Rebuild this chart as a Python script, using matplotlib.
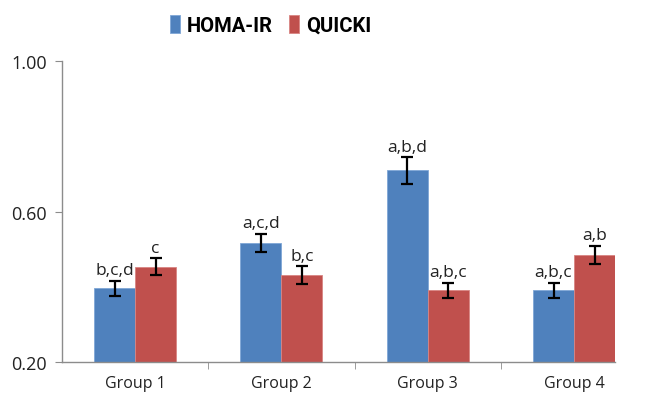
import matplotlib
import numpy as np
from matplotlib import pyplot as plt

matplotlib.use("Agg")
plt.rcParams['font.family'] = ['Open Sans', 'DejaVu Sans']

groups = ["Group 1", "Group 2", "Group 3", "Group 4"]
homa = [0.397, 0.517, 0.710, 0.392]
homa_err = [0.020, 0.025, 0.035, 0.020]
homa_sig = ["b,c,d", "a,c,d", "a,b,d", "a,b,c"]
quicki = [0.454, 0.432, 0.392, 0.485]
quicki_err = [0.023, 0.023, 0.020, 0.025]
quicki_sig = ["c", "b,c", "a,b,c", "a,b"]

blue = "#4F81BD"
red = "#C0504D"
axis_grey = "#8C8C8C"

fig = plt.figure(figsize=(6.45, 4.06), dpi=100)
ax = fig.add_axes([0.0961, 0.1052, 0.8574, 0.7414])

x = np.arange(len(groups))
w = 0.28
err_kw = dict(ecolor="black", elinewidth=1.6, capsize=4, capthick=1.6)
ax.bar(x - w / 2, homa, w, yerr=homa_err, color=blue,
       edgecolor="#7FA6D6", linewidth=0.6, error_kw=err_kw, label="HOMA-IR")
ax.bar(x + w / 2, quicki, w, yerr=quicki_err, color=red,
       edgecolor="#D88583", linewidth=0.6, error_kw=err_kw, label="QUICKI")

# significance letters above each error bar
for xi, v, e, s in zip(x - w / 2, homa, homa_err, homa_sig):
    ax.text(xi, v + e + 0.006, s, ha="center", va="bottom", fontsize=12.5,
            color="#222222")
for xi, v, e, s in zip(x + w / 2, quicki, quicki_err, quicki_sig):
    ax.text(xi, v + e + 0.006, s, ha="center", va="bottom", fontsize=12.5,
            color="#222222")

ax.set_ylim(0.2, 1.0)
ax.set_xlim(-0.5, 3 + w)
ax.set_yticks([0.2, 0.6, 1.0])
ax.set_yticklabels(["0.20", "0.60", "1.00"])
ax.set_xticks(x)
ax.set_xticklabels(groups)
ax.tick_params(axis="x", length=0, pad=9, labelsize=11.5, labelcolor="#222222")
ax.tick_params(axis="y", length=5, color=axis_grey, labelsize=13,
               labelcolor="#222222", pad=6)
# tick marks between the groups
ax.set_xticks(x[:-1] + 0.5, minor=True)
ax.tick_params(axis="x", which="minor", length=5, color=axis_grey)

for side in ("top", "right"):
    ax.spines[side].set_visible(False)
for side in ("left", "bottom"):
    ax.spines[side].set_color(axis_grey)
    ax.spines[side].set_linewidth(1)

fig.legend(loc="center", bbox_to_anchor=(0.42, 0.937), ncol=2,
           frameon=False, handlelength=0.5, handleheight=1.0,
           handletextpad=0.35, columnspacing=0.8,
           prop=dict(family=["Roboto", "DejaVu Sans"], size=14.5,
                     weight="bold"))

fig.savefig("out.png", dpi=100)
